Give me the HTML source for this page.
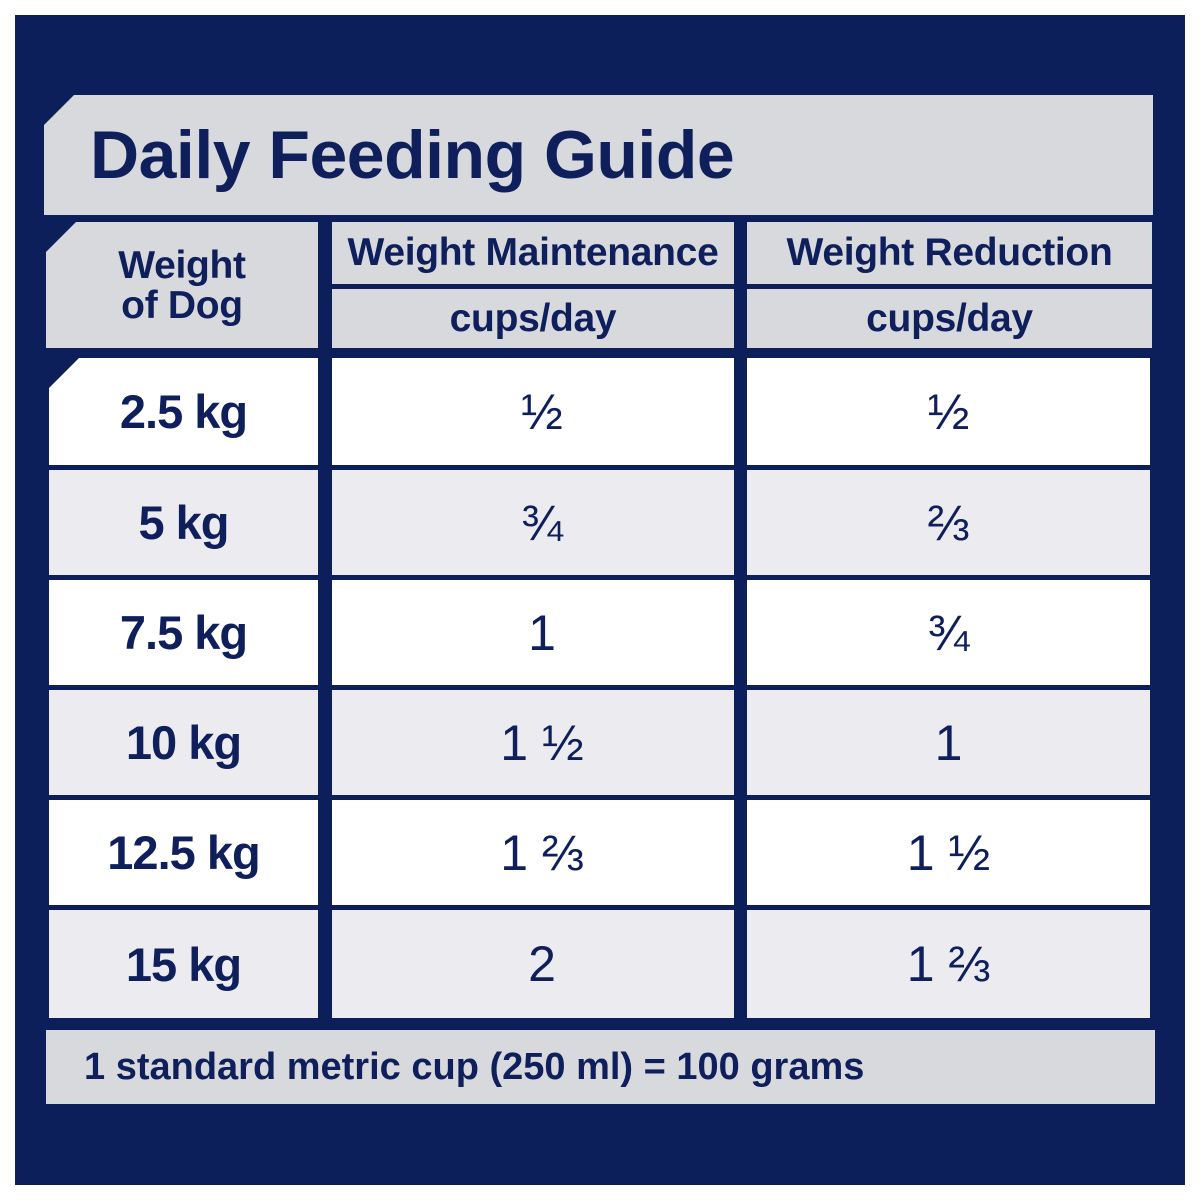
<!DOCTYPE html>
<html><head><meta charset="utf-8"><style>
body{margin:0;width:1200px;height:1200px;background:#fff;position:relative;overflow:hidden;font-family:"Liberation Sans",sans-serif;color:#0f1f5c}
.n{position:absolute;left:15px;top:15px;width:1170px;height:1170px;background:#0c1f5b}
.b{position:absolute;display:flex;align-items:center;justify-content:center;font-weight:bold;text-align:center}
.g{background:#d8d9dd}.w{background:#fff}.l{background:#ececf0}
.cut{clip-path:polygon(30px 0,100% 0,100% 100%,0 100%,0 30px)}
.h{font-size:39px;letter-spacing:-0.3px}
.d{font-size:47px;letter-spacing:-1px}
.v{font-size:50px;font-weight:normal;padding-left:18px;box-sizing:border-box}
.v3{font-size:50px;font-weight:normal;padding-left:0}
</style></head><body>
<div class="n"></div>
<div class="b g cut" style="left:44px;top:95px;width:1109px;height:120px;justify-content:flex-start;padding-left:46px;box-sizing:border-box;font-size:68px;letter-spacing:-0.5px">Daily Feeding Guide</div>
<div class="b g cut h" style="left:46px;top:222px;width:272px;height:126px;line-height:40px;padding-top:2px;box-sizing:border-box">Weight<br>of Dog</div>
<div class="b g h" style="left:332px;top:222px;width:402px;height:62px">Weight Maintenance</div>
<div class="b g h" style="left:332px;top:289px;width:402px;height:59px">cups/day</div>
<div class="b g h" style="left:747px;top:222px;width:405px;height:62px">Weight Reduction</div>
<div class="b g h" style="left:747px;top:289px;width:405px;height:59px">cups/day</div>

<div class="b w cut d" style="left:49px;top:358px;width:269px;height:107px">2.5 kg</div>
<div class="b w v" style="left:332px;top:358px;width:402px;height:107px">½</div>
<div class="b w v3" style="left:747px;top:358px;width:403px;height:107px">½</div>

<div class="b l d" style="left:49px;top:470px;width:269px;height:105px">5 kg</div>
<div class="b l v" style="left:332px;top:470px;width:402px;height:105px">¾</div>
<div class="b l v3" style="left:747px;top:470px;width:403px;height:105px">⅔</div>

<div class="b w d" style="left:49px;top:580px;width:269px;height:105px">7.5 kg</div>
<div class="b w v" style="left:332px;top:580px;width:402px;height:105px">1</div>
<div class="b w v3" style="left:747px;top:580px;width:403px;height:105px">¾</div>

<div class="b l d" style="left:49px;top:690px;width:269px;height:105px">10 kg</div>
<div class="b l v" style="left:332px;top:690px;width:402px;height:105px">1 ½</div>
<div class="b l v3" style="left:747px;top:690px;width:403px;height:105px">1</div>

<div class="b w d" style="left:49px;top:800px;width:269px;height:105px">12.5 kg</div>
<div class="b w v" style="left:332px;top:800px;width:402px;height:105px">1 ⅔</div>
<div class="b w v3" style="left:747px;top:800px;width:403px;height:105px">1 ½</div>

<div class="b l d" style="left:49px;top:910px;width:269px;height:108px">15 kg</div>
<div class="b l v" style="left:332px;top:910px;width:402px;height:108px">2</div>
<div class="b l v3" style="left:747px;top:910px;width:403px;height:108px">1 ⅔</div>

<div class="b g" style="left:46px;top:1030px;width:1109px;height:74px;justify-content:flex-start;padding-left:38px;box-sizing:border-box;font-size:38px;letter-spacing:0px">1 standard metric cup (250 ml) = 100 grams</div>
</body></html>
